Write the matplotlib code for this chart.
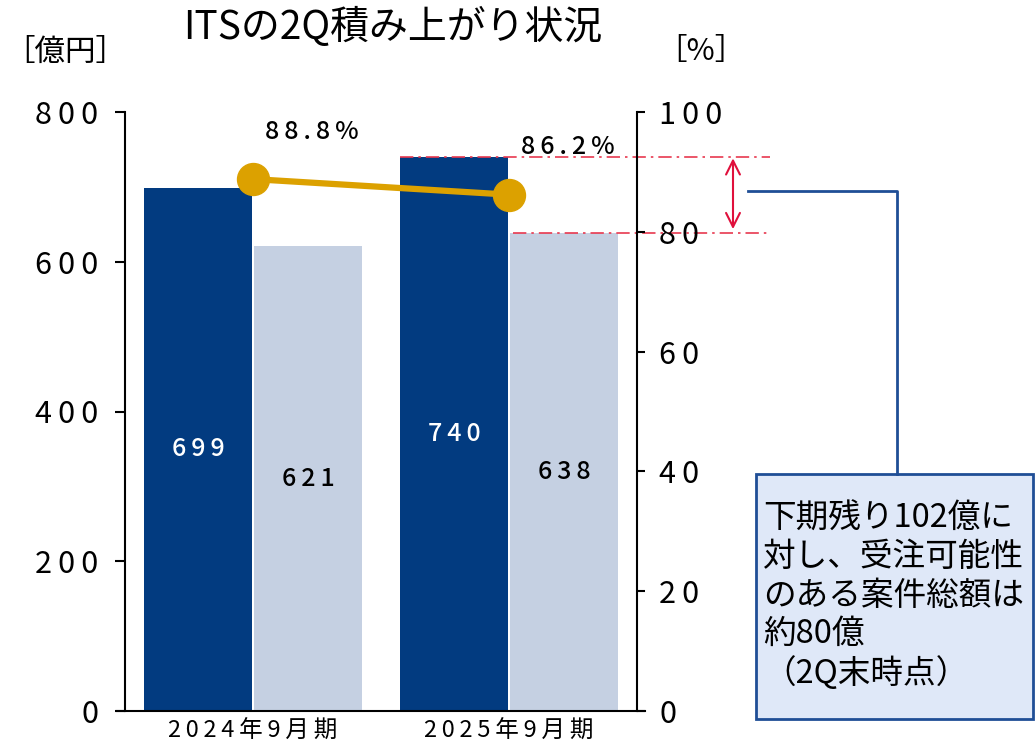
import matplotlib
matplotlib.use("Agg")
import matplotlib.pyplot as plt
import numpy as np
from matplotlib.patches import Rectangle
from matplotlib.lines import Line2D

plt.rcParams['font.family'] = ['Noto Sans CJK JP', 'DejaVu Sans']

# ------------------------------
# データ
# ------------------------------
categories = ['2024年9月期', '2025年9月期']
total_values = [699, 740]      # 濃紺の棒 [億円]
order_values = [621, 638]      # 薄い棒 [億円]
rate_values = [88.8, 86.2]     # 積み上がり率 [%]
left_ticks = [0, 200, 400, 600, 800]
right_ticks = [0, 20, 40, 60, 80, 100]
note_text = "下期残り102億に\n対し、受注可能性\nのある案件総額は\n約80億\n（2Q末時点）"

NAVY = '#023b80'
LIGHT = '#c5d0e2'
GOLD = '#dca100'
RED = '#e8384f'
BOXBLUE = '#1f4e96'

W, H = 1036, 750


def spaced(s):
    # 文字間を少し広げる
    return '\u2009'.join(str(s))


def fx(px):
    return px / W


def fy(py):
    return 1 - py / H


fig = plt.figure(figsize=(W / 100, H / 100), dpi=100)
ax = fig.add_axes([fx(125), fy(711), fx(637) - fx(125), fy(112) - fy(711)])

x = np.arange(len(categories))
w = 0.42
off = 0.215
ax.bar(x - off, total_values, w, color=NAVY)
ax.bar(x + off, order_values, w, color=LIGHT)
ax.set_xlim(-0.5, 1.5)
ax.set_ylim(0, 800)

for xi, v in zip(x, total_values):
    ax.text(xi - off, v / 2, spaced(v), ha='center', va='center', color='white',
            fontsize=18, fontweight='medium')
for xi, v in zip(x, order_values):
    ax.text(xi + off, v / 2, spaced(v), ha='center', va='center', color='black',
            fontsize=18, fontweight='medium')

# 軸
ax.set_yticks(left_ticks, [spaced(t) for t in left_ticks], fontsize=22)
ax.set_xticks(x, [spaced(c) for c in categories], fontsize=17)
ax.tick_params(axis='y', direction='out', length=7, width=1.5, pad=12)
ax.tick_params(axis='x', length=0, pad=6)
for s in ['top', 'right', 'bottom']:
    ax.spines[s].set_visible(False)
ax.spines['left'].set_linewidth(1.5)
ax.add_line(Line2D([-0.016, 1.016], [0, 0], transform=ax.transAxes, color='black', lw=1.5, clip_on=False))

# 右軸（%）
ax2 = ax.twinx()
ax2.set_ylim(0, 100)
ax2.plot(x, rate_values, color=GOLD, lw=4.5, marker='o', ms=23, zorder=5)
for xi, r in zip(x, rate_values):
    ax2.annotate(spaced(f"{r:.1f}%"), (xi, r), xytext=(42, 34), textcoords='offset points',
                 ha='center', va='center', fontsize=18, fontweight='medium')
ax2.set_yticks(right_ticks, [spaced(t) for t in right_ticks], fontsize=22)
ax2.tick_params(axis='y', direction='out', length=6, width=1.5, pad=10)
for s in ['top', 'left', 'bottom']:
    ax2.spines[s].set_visible(False)
ax2.spines['right'].set_linewidth(1.5)

# 赤い一点鎖線と矢印
x_end = 2.02
ax.plot([x[1] - off - w / 2, x_end], [total_values[1]] * 2, color=RED, lw=1.2,
        linestyle=(0, (8, 3, 1.5, 3)), clip_on=False)
ax.plot([x[1] + off - w / 2 + 0.01, x_end], [order_values[1]] * 2, color=RED, lw=1.2,
        linestyle=(0, (8, 3, 1.5, 3)), clip_on=False)
ax.annotate('', xy=(1.875, total_values[1]), xytext=(1.875, order_values[1]),
            arrowprops=dict(arrowstyle='<->', color='#e0103c', lw=1.5, mutation_scale=25,
                            shrinkA=3, shrinkB=1),
            annotation_clip=False)

# 注記ボックス
fig.add_artist(Line2D([fx(748), fx(897), fx(897)], [fy(191), fy(191), fy(474)],
                      color=BOXBLUE, lw=2))
fig.add_artist(Rectangle((fx(756), fy(719)), fx(1033) - fx(756), fy(474) - fy(719),
                         facecolor='#dfe8f8', edgecolor=BOXBLUE, lw=2, transform=fig.transFigure))
fig.text(fx(763), fy(503), note_text, ha='left', va='top', fontsize=23.5, linespacing=1.25)

# タイトル・単位
fig.text(fx(393), fy(28), 'ITSの2Q積み上がり状況', ha='center', va='center', fontsize=28)
fig.text(fx(65), fy(52), '［億円］', ha='center', va='center', fontsize=22)
fig.text(fx(701), fy(52), '［%］', ha='center', va='center', fontsize=22)

fig.savefig('out.png', dpi=100)
